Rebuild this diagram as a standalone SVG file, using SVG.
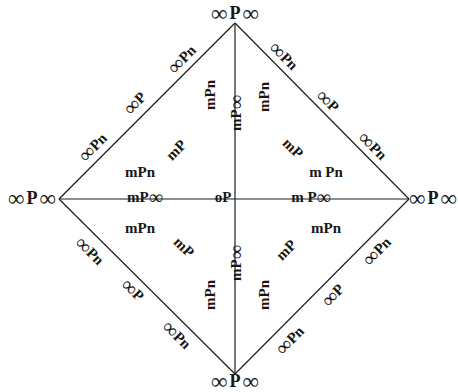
<svg xmlns="http://www.w3.org/2000/svg" width="458" height="392" viewBox="0 0 458 392">
<style>
.ln{stroke:#1e1e1e;stroke-width:1.2;fill:none}
text{font-family:"Liberation Serif","DejaVu Serif",serif;font-weight:bold;fill:#161616;text-anchor:middle;dominant-baseline:central;font-size:15px}
.v{font-size:18px}
.i{font-weight:normal;font-size:23px}
.e .i{font-size:21px}
.a{font-weight:normal;font-size:20px}
</style>
<rect width="458" height="392" fill="#fff"/>
<g id="connectors">
<line class="ln" x1="59" y1="199" x2="235" y2="23"/>
<line class="ln" x1="235" y1="23" x2="409" y2="199"/>
<line class="ln" x1="409" y1="199" x2="235" y2="374"/>
<line class="ln" x1="235" y1="374" x2="59" y2="199"/>
<line class="ln" x1="235" y1="23" x2="235" y2="374"/>
<line class="ln" x1="59" y1="199" x2="409" y2="199"/>
</g>
<g id="v-top"><text class="v" x="235" y="13"><tspan class="i">∞</tspan><tspan dx="2">P</tspan><tspan class="i" dx="2">∞</tspan></text></g>
<g id="v-left"><text class="v" x="32" y="198"><tspan class="i">∞</tspan><tspan dx="2">P</tspan><tspan class="i" dx="2">∞</tspan></text></g>
<g id="v-right"><text class="v" x="433" y="198"><tspan class="i">∞</tspan><tspan dx="2">P</tspan><tspan class="i" dx="2">∞</tspan></text></g>
<g id="v-bottom"><text class="v" x="235" y="381"><tspan class="i">∞</tspan><tspan dx="2">P</tspan><tspan class="i" dx="2">∞</tspan></text></g>

<g id="e-ul1" class="e"><text transform="translate(182,59) rotate(-45)"><tspan class="i">∞</tspan>Pn</text></g>
<g id="e-ul2" class="e"><text transform="translate(135,103) rotate(-45)"><tspan class="i">∞</tspan>P</text></g>
<g id="e-ul3" class="e"><text transform="translate(93,147) rotate(-45)"><tspan class="i">∞</tspan>Pn</text></g>
<g id="e-ur1" class="e"><text transform="translate(284,56) rotate(45)"><tspan class="i">∞</tspan>Pn</text></g>
<g id="e-ur2" class="e"><text transform="translate(328,101) rotate(45)"><tspan class="i">∞</tspan>P</text></g>
<g id="e-ur3" class="e"><text transform="translate(373,146) rotate(45)"><tspan class="i">∞</tspan>Pn</text></g>
<g id="e-ll1" class="e"><text transform="translate(90,251) rotate(45)"><tspan class="i">∞</tspan>Pn</text></g>
<g id="e-ll2" class="e"><text transform="translate(133,290) rotate(45)"><tspan class="i">∞</tspan>P</text></g>
<g id="e-ll3" class="e"><text transform="translate(177,335) rotate(45)"><tspan class="i">∞</tspan>Pn</text></g>
<g id="e-lr1" class="e"><text transform="translate(377,251) rotate(-45)"><tspan class="i">∞</tspan>Pn</text></g>
<g id="e-lr2" class="e"><text transform="translate(333,295) rotate(-45)"><tspan class="i">∞</tspan>P</text></g>
<g id="e-lr3" class="e"><text transform="translate(290,340) rotate(-45)"><tspan class="i">∞</tspan>Pn</text></g>

<g id="f-ul-a"><text transform="translate(210,95) rotate(-90)">mPn</text></g>
<g id="f-ul-b"><text transform="translate(176,150) rotate(-45)">mP</text></g>
<g id="f-ul-c"><text x="140" y="172">mPn</text></g>
<g id="f-ur-a"><text transform="translate(264,97) rotate(-90)">mPn</text></g>
<g id="f-ur-b"><text transform="translate(293,148) rotate(45)">mP</text></g>
<g id="f-ur-c"><text x="326" y="172">m Pn</text></g>
<g id="f-ll-a"><text x="140" y="228">mPn</text></g>
<g id="f-ll-b"><text transform="translate(184,247) rotate(45)">mP</text></g>
<g id="f-ll-c"><text transform="translate(210,295) rotate(-90)">mPn</text></g>
<g id="f-lr-a"><text x="326" y="228">mPn</text></g>
<g id="f-lr-b"><text transform="translate(286,250) rotate(-45)">mP</text></g>
<g id="f-lr-c"><text transform="translate(264,295) rotate(-90)">mPn</text></g>

<g id="a-top"><text transform="translate(236,113) rotate(-90)">mP<tspan class="a">∞</tspan></text></g>
<g id="a-bottom"><text transform="translate(236,263) rotate(-90)">mP<tspan class="a">∞</tspan></text></g>
<g id="a-left"><text x="145" y="197">mP<tspan class="a">∞</tspan></text></g>
<g id="a-right"><text x="311" y="197">m P<tspan class="a">∞</tspan></text></g>
<g id="a-center"><text x="223" y="197">oP</text></g>
</svg>
